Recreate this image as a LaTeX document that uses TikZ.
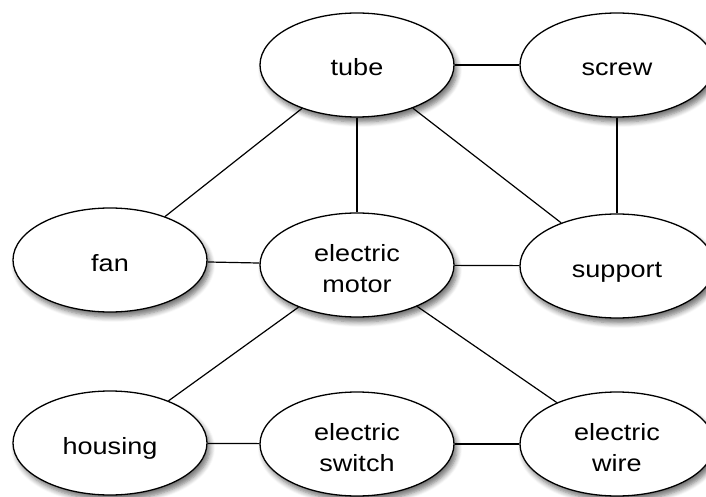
\documentclass[tikz,border=0pt]{standalone}
\usepackage{fontspec}
\setmainfont[FakeStretch=1.15]{Liberation Sans}
\usetikzlibrary{shapes.geometric,shadows.blur,backgrounds}
% two centred lines, baseline on the last one
\newcommand\twolines[2]{\vbox{\halign{\hfil##\hfil\cr#1\cr#2\cr}}}
\begin{document}
\begin{tikzpicture}[x=1pt,y=1pt,
  concept/.style={ellipse,draw=black,line width=1.3pt,fill=white,
    minimum width=194pt,minimum height=104pt,inner sep=0pt,
    font=\fontsize{23.5}{31}\selectfont,
    text height=22pt,text depth=0pt,
    blur shadow={shadow xshift=3pt,shadow yshift=-5pt,shadow blur radius=5pt,
      shadow blur steps=6,shadow opacity=55}},
  concept2/.style={concept,text height=54pt,text depth=0pt},
  link/.style={line width=1.2pt,draw=black}]
\useasboundingbox (0,0) rectangle (706,496);
% concept nodes, three rows
\node[concept]  (tube)    at (357,431) {tube};
\node[concept]  (screw)   at (617,431) {screw};
\node[concept]  (fan)     at (110,236) {fan};
\node[concept2] (motor)   at (357,231) {\twolines{electric}{motor}};
\node[concept]  (support) at (617,230) {support};
\node[concept]  (housing) at (110,53)  {housing};
\node[concept2] (switch)  at (357,52)  {\twolines{electric}{switch}};
\node[concept2] (wire)    at (617,52)  {\twolines{electric}{wire}};
% relations
\begin{scope}[on background layer]
\draw[link] (tube) -- (screw);
\draw[link] (tube) -- (fan);
\draw[link] (tube) -- (motor);
\draw[link] (tube) -- (support);
\draw[link] (screw) -- (support);
\draw[link] (fan) -- (motor);
\draw[link] (motor) -- (support);
\draw[link] (motor) -- (housing);
\draw[link] (motor) -- (wire);
\draw[link] (housing) -- (switch);
\draw[link] (switch) -- (wire);
\end{scope}
\end{tikzpicture}
\end{document}
